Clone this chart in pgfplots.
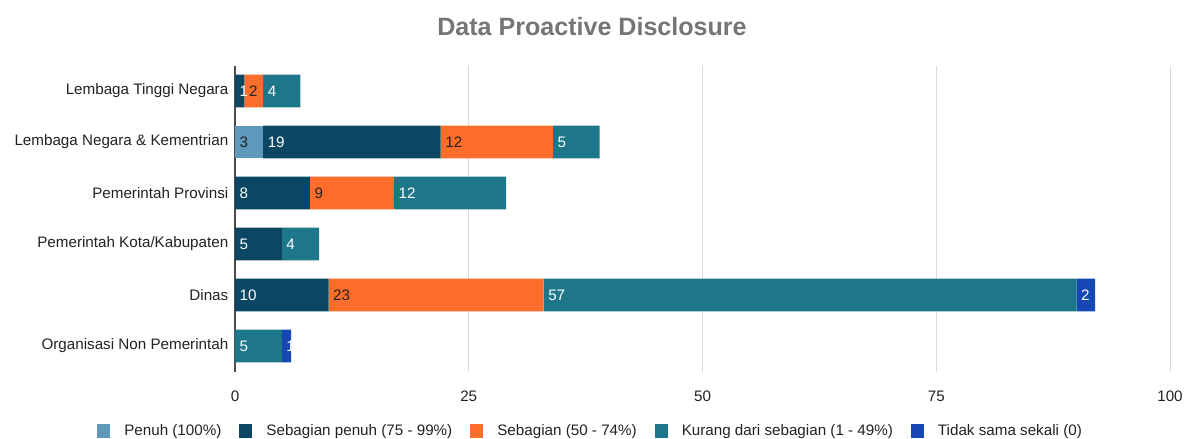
\documentclass[border=0pt]{standalone}
\usepackage{pgfplots}
\pgfplotsset{compat=1.18}
\usepackage{pgfplotstable}
\usepackage{fontspec}
\setmainfont{Liberation Sans}
\definecolor{cA}{HTML}{5E98BA}
\definecolor{cB}{HTML}{0B4762}
\definecolor{cC}{HTML}{FF6D2D}
\definecolor{cD}{HTML}{1E768A}
\definecolor{cE}{HTML}{1647B5}
\definecolor{ctitle}{HTML}{757575}
\definecolor{ctext}{HTML}{222222}
\definecolor{cgrid}{HTML}{DADADA}
% values of each segment (a..e) and where each segment starts (sa..se)
\pgfplotstableread{
y a b c d e sa sb sc sd se
0 0 1 2 4 0 0 0 1 3 7
1 3 19 12 5 0 0 3 22 34 39
2 0 8 9 12 0 0 0 8 17 29
3 0 5 0 4 0 0 0 5 5 9
4 0 10 23 57 2 0 0 10 33 90
5 0 0 0 5 1 0 0 0 0 5
}\data
\newcommand\lbl{\ifnum\pgfplotspointmeta=0 \else\pgfplotspointmeta\fi}
\newcommand\fs{\fontsize{11.4}{13}\selectfont}
\pgfplotsset{
  geom/.style={at={(176.25pt,50.625pt)}, anchor=south west,
    scale only axis, width=701.25pt, height=229.5pt,
    xmin=0, xmax=100, ymin=-0.5, ymax=5.5, y dir=reverse},
  lab/.style={sharp plot, draw=none, mark=none,
    point meta=explicit symbolic, nodes near coords=\lbl,
    every node near coord/.style={anchor=west, font=\fs, text=#1}}}
\begin{document}
\begin{tikzpicture}
\useasboundingbox (0,0) rectangle (900pt,329.25pt);
\node[font=\bfseries\fontsize{18.8}{22}\selectfont, text=ctitle] at (444pt,309pt) {Data Proactive Disclosure};
\begin{axis}[
  geom,
  xbar stacked, bar width=24.5pt,
  xtick={25,50,75,100}, extra x ticks={0},
  extra x tick style={major grid style={color=black!70, line width=0.9pt}},
  xmajorgrids, major grid style={color=cgrid, line width=0.7pt},
  ytick={0,...,5},
  yticklabels={Lembaga Tinggi Negara, Lembaga Negara \& Kementrian, Pemerintah Provinsi, Pemerintah Kota/Kabupaten, Dinas, Organisasi Non Pemerintah},
  axis line style={draw=none}, major tick length=0pt,
  tick label style={font=\fs, text=ctext, /pgf/number format/assume math mode=true},
  yticklabel style={xshift=-1.5pt},
  xticklabel style={yshift=-11pt},
  legend columns=5,
  legend style={at={(-0.1476,-0.1944)}, anchor=west, draw=none, fill=none, font=\fs, text=ctext, inner sep=0pt,
    /tikz/every odd column/.append style={column sep=8.5pt},
    /tikz/every even column/.append style={column sep=11.5pt}},
  legend image code/.code={\fill[#1] (0pt,-4.9pt) rectangle (9.75pt,4.9pt);},
]
\addplot[fill=cA, draw=none] table[x=a, y=y] {\data};
\addplot[fill=cB, draw=none] table[x=b, y=y] {\data};
\addplot[fill=cC, draw=none] table[x=c, y=y] {\data};
\addplot[fill=cD, draw=none] table[x=d, y=y] {\data};
\addplot[fill=cE, draw=none] table[x=e, y=y] {\data};
\legend{Penuh (100\%), Sebagian penuh (75 - 99\%), Sebagian (50 - 74\%), Kurang dari sebagian (1 - 49\%), Tidak sama sekali (0)}
\end{axis}
\begin{axis}[geom, hide axis, clip=false]
\addplot[lab=ctext] table[x=sa, y=y, meta=a] {\data};
\addplot[lab=white] table[x=sb, y=y, meta=b] {\data};
\addplot[lab=ctext] table[x=sc, y=y, meta=c] {\data};
\addplot[lab=white] table[x=sd, y=y, meta=d] {\data};
\addplot[lab=white] table[x=se, y=y, meta=e] {\data};
\end{axis}
\end{tikzpicture}
\end{document}
